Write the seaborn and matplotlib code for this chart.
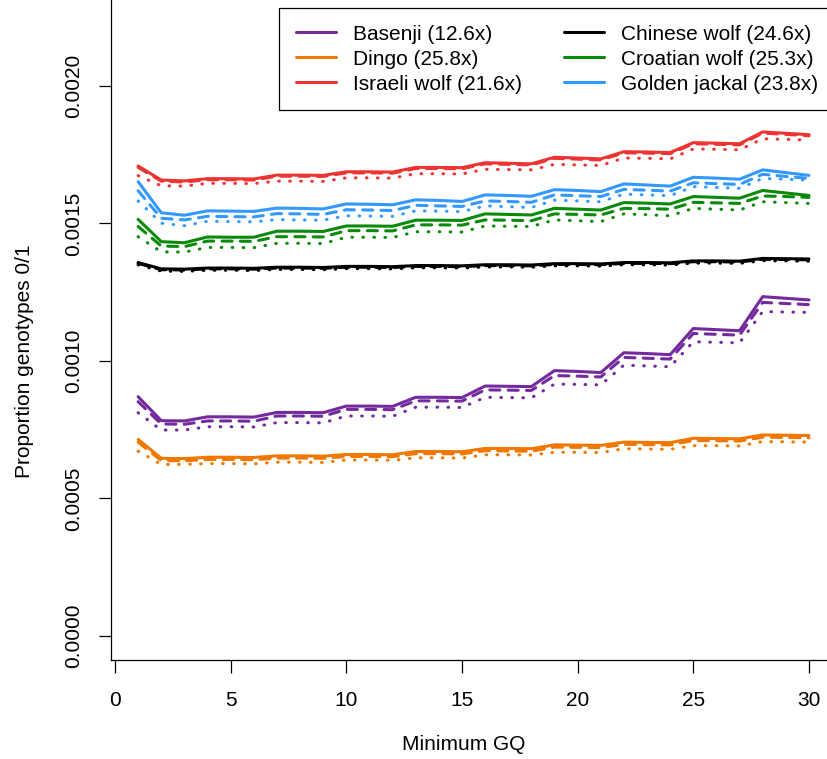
import pandas as pd
import matplotlib
matplotlib.use("Agg")
import matplotlib.pyplot as plt
from matplotlib.lines import Line2D
import seaborn as sns

# Minimum GQ threshold
gq = list(range(1, 31))

# Proportion of 0/1 genotypes, three filter variants per sample (solid / dashed / dotted)
basenji_solid = [0.000870, 0.000783, 0.000782, 0.000797, 0.000797, 0.000796, 0.000813, 0.000813, 0.000812, 0.000836,
                 0.000836, 0.000835, 0.000868, 0.000868, 0.000867, 0.000909, 0.000908, 0.000907, 0.000965, 0.000962,
                 0.000958, 0.001030, 0.001027, 0.001023, 0.001118, 0.001114, 0.001110, 0.001234, 0.001228, 0.001222]
basenji_dashed = [0.000852, 0.000771, 0.000770, 0.000782, 0.000782, 0.000781, 0.000800, 0.000800, 0.000799, 0.000824,
                  0.000824, 0.000823, 0.000855, 0.000855, 0.000854, 0.000895, 0.000894, 0.000893, 0.000947, 0.000945,
                  0.000942, 0.001013, 0.001010, 0.001007, 0.001100, 0.001097, 0.001094, 0.001213, 0.001209, 0.001205]
basenji_dotted = [0.000812, 0.000749, 0.000749, 0.000761, 0.000761, 0.000760, 0.000776, 0.000776, 0.000775, 0.000800,
                  0.000800, 0.000799, 0.000832, 0.000832, 0.000831, 0.000868, 0.000867, 0.000866, 0.000916, 0.000915,
                  0.000913, 0.000985, 0.000982, 0.000979, 0.001070, 0.001068, 0.001066, 0.001180, 0.001178, 0.001177]

dingo_solid = [0.000715, 0.000646, 0.000645, 0.000650, 0.000650, 0.000649, 0.000655, 0.000655, 0.000654, 0.000660,
               0.000660, 0.000659, 0.000671, 0.000671, 0.000670, 0.000682, 0.000682, 0.000681, 0.000695, 0.000694,
               0.000693, 0.000705, 0.000704, 0.000703, 0.000719, 0.000718, 0.000717, 0.000731, 0.000730, 0.000729]
dingo_dashed = [0.000705, 0.000638, 0.000637, 0.000642, 0.000642, 0.000641, 0.000647, 0.000647, 0.000646, 0.000653,
                0.000653, 0.000652, 0.000663, 0.000663, 0.000662, 0.000674, 0.000673, 0.000672, 0.000687, 0.000686,
                0.000685, 0.000697, 0.000696, 0.000695, 0.000711, 0.000710, 0.000709, 0.000723, 0.000722, 0.000721]
dingo_dotted = [0.000672, 0.000624, 0.000624, 0.000627, 0.000627, 0.000626, 0.000632, 0.000632, 0.000631, 0.000640,
                0.000640, 0.000639, 0.000648, 0.000648, 0.000647, 0.000659, 0.000659, 0.000658, 0.000668, 0.000668,
                0.000667, 0.000681, 0.000680, 0.000679, 0.000692, 0.000692, 0.000691, 0.000707, 0.000706, 0.000705]

israeli_solid = [0.001709, 0.001658, 0.001655, 0.001663, 0.001663, 0.001662, 0.001676, 0.001676, 0.001675, 0.001688,
                 0.001688, 0.001687, 0.001704, 0.001704, 0.001703, 0.001721, 0.001719, 0.001717, 0.001741, 0.001738,
                 0.001735, 0.001761, 0.001760, 0.001758, 0.001794, 0.001792, 0.001790, 0.001833, 0.001828, 0.001823]
israeli_dashed = [0.001704, 0.001654, 0.001651, 0.001659, 0.001659, 0.001658, 0.001672, 0.001672, 0.001671, 0.001684,
                  0.001684, 0.001683, 0.001700, 0.001700, 0.001699, 0.001717, 0.001715, 0.001713, 0.001737, 0.001734,
                  0.001731, 0.001757, 0.001756, 0.001754, 0.001790, 0.001788, 0.001786, 0.001829, 0.001824, 0.001819]
israeli_dotted = [0.001674, 0.001637, 0.001636, 0.001646, 0.001646, 0.001645, 0.001654, 0.001654, 0.001653, 0.001666,
                  0.001666, 0.001665, 0.001681, 0.001681, 0.001680, 0.001697, 0.001696, 0.001695, 0.001715, 0.001713,
                  0.001711, 0.001738, 0.001737, 0.001735, 0.001771, 0.001770, 0.001768, 0.001808, 0.001806, 0.001803]

chinese_solid = [0.001358, 0.001335, 0.001334, 0.001338, 0.001338, 0.001337, 0.001341, 0.001341, 0.001340, 0.001344,
                 0.001344, 0.001343, 0.001347, 0.001347, 0.001346, 0.001350, 0.001350, 0.001349, 0.001354, 0.001354,
                 0.001353, 0.001358, 0.001358, 0.001357, 0.001364, 0.001364, 0.001363, 0.001373, 0.001372, 0.001371]
chinese_dashed = [0.001355, 0.001332, 0.001331, 0.001335, 0.001335, 0.001334, 0.001338, 0.001338, 0.001337, 0.001341,
                  0.001341, 0.001340, 0.001344, 0.001344, 0.001343, 0.001347, 0.001347, 0.001346, 0.001351, 0.001351,
                  0.001350, 0.001355, 0.001355, 0.001354, 0.001361, 0.001361, 0.001360, 0.001370, 0.001369, 0.001368]
chinese_dotted = [0.001350, 0.001327, 0.001326, 0.001330, 0.001330, 0.001329, 0.001333, 0.001333, 0.001332, 0.001336,
                  0.001336, 0.001335, 0.001339, 0.001339, 0.001338, 0.001342, 0.001342, 0.001341, 0.001346, 0.001346,
                  0.001345, 0.001350, 0.001350, 0.001349, 0.001356, 0.001356, 0.001355, 0.001365, 0.001364, 0.001363]

croatian_solid = [0.001515, 0.001434, 0.001430, 0.001451, 0.001450, 0.001450, 0.001472, 0.001472, 0.001471, 0.001491,
                  0.001491, 0.001490, 0.001512, 0.001512, 0.001511, 0.001535, 0.001533, 0.001531, 0.001555, 0.001552,
                  0.001549, 0.001576, 0.001574, 0.001571, 0.001598, 0.001595, 0.001592, 0.001620, 0.001611, 0.001602]
croatian_dashed = [0.001489, 0.001418, 0.001416, 0.001436, 0.001436, 0.001435, 0.001452, 0.001452, 0.001451, 0.001474,
                   0.001474, 0.001473, 0.001495, 0.001495, 0.001494, 0.001513, 0.001512, 0.001510, 0.001535, 0.001533,
                   0.001531, 0.001555, 0.001554, 0.001552, 0.001577, 0.001575, 0.001573, 0.001600, 0.001598, 0.001595]
croatian_dotted = [0.001452, 0.001397, 0.001396, 0.001413, 0.001413, 0.001412, 0.001428, 0.001428, 0.001427, 0.001450,
                   0.001450, 0.001449, 0.001470, 0.001470, 0.001469, 0.001491, 0.001490, 0.001489, 0.001513, 0.001510,
                   0.001507, 0.001535, 0.001532, 0.001528, 0.001555, 0.001552, 0.001549, 0.001579, 0.001576, 0.001573]

jackal_solid = [0.001652, 0.001539, 0.001530, 0.001546, 0.001545, 0.001544, 0.001556, 0.001555, 0.001553, 0.001571,
                0.001570, 0.001568, 0.001586, 0.001584, 0.001580, 0.001604, 0.001602, 0.001599, 0.001623, 0.001620,
                0.001616, 0.001644, 0.001640, 0.001636, 0.001668, 0.001665, 0.001661, 0.001695, 0.001685, 0.001675]
jackal_dashed = [0.001619, 0.001519, 0.001513, 0.001526, 0.001525, 0.001524, 0.001536, 0.001535, 0.001533, 0.001550,
                 0.001549, 0.001547, 0.001566, 0.001564, 0.001562, 0.001582, 0.001580, 0.001577, 0.001604, 0.001601,
                 0.001598, 0.001624, 0.001621, 0.001618, 0.001648, 0.001645, 0.001642, 0.001679, 0.001671, 0.001664]
jackal_dotted = [0.001582, 0.001501, 0.001492, 0.001508, 0.001507, 0.001506, 0.001514, 0.001513, 0.001512, 0.001528,
                 0.001527, 0.001526, 0.001546, 0.001545, 0.001543, 0.001564, 0.001561, 0.001558, 0.001585, 0.001582,
                 0.001579, 0.001607, 0.001604, 0.001601, 0.001634, 0.001631, 0.001628, 0.001664, 0.001661, 0.001658]

samples = ["Basenji (12.6x)", "Dingo (25.8x)", "Israeli wolf (21.6x)",
           "Chinese wolf (24.6x)", "Croatian wolf (25.3x)", "Golden jackal (23.8x)"]
colors = ["#742A9C", "#F07800", "#EE3333", "#000000", "#0A8A0A", "#3399FF"]
series = [
    (basenji_solid, basenji_dashed, basenji_dotted),
    (dingo_solid, dingo_dashed, dingo_dotted),
    (israeli_solid, israeli_dashed, israeli_dotted),
    (chinese_solid, chinese_dashed, chinese_dotted),
    (croatian_solid, croatian_dashed, croatian_dotted),
    (jackal_solid, jackal_dashed, jackal_dotted),
]

# long-form table for seaborn
rows = []
for name, triple in zip(samples, series):
    for variant, vals in zip(["solid", "dashed", "dotted"], triple):
        for x, v in zip(gq, vals):
            rows.append({"gq": x, "prop": v, "sample": name, "variant": variant})
df = pd.DataFrame(rows)

sns.set_theme(style="ticks")
plt.rcParams["font.family"] = ["Liberation Sans", "DejaVu Sans"]
plt.rcParams["text.color"] = "black"
fs = 15

W, H = 827, 759
fig = plt.figure(figsize=(W / 100, H / 100), dpi=100)
ax = fig.add_axes([111 / W, 99 / H, 1 - 111 / W, 1 - 99 / H])

styles = {
    "solid": dict(linestyle="-"),
    "dashed": dict(linestyle=(0, (3.3, 2.7)), dash_capstyle="round"),
    "dotted": dict(linestyle=(0, (0.2, 3.4)), dash_capstyle="round"),
}
for name, col in zip(samples, colors):
    for variant in ["solid", "dashed", "dotted"]:
        sub = df[(df["sample"] == name) & (df["variant"] == variant)]
        sns.lineplot(data=sub, x="gq", y="prop", color=col, lw=2.2, ax=ax,
                     legend=False, **styles[variant])

ax.set_xlim(-0.173, 30.78)
ax.set_ylim(-0.0000873, 0.0023127)
ax.set_xticks([0, 5, 10, 15, 20, 25, 30])
ax.set_xticklabels(["0", "5", "10", "15", "20", "25", "30"], fontsize=fs)
yt = [0.0, 0.0005, 0.0010, 0.0015, 0.0020]
ax.set_yticks(yt)
ax.set_yticklabels([f"{v:.4f}" for v in yt], fontsize=fs, rotation=90, va="center")
ax.tick_params(axis="x", length=9, width=0.9, pad=13, colors="black")
ax.tick_params(axis="y", length=9, width=0.9, pad=11, colors="black")
ax.set_xlabel("")
ax.set_ylabel("")
for s in ["top", "right"]:
    ax.spines[s].set_visible(False)
for s in ["left", "bottom"]:
    ax.spines[s].set_color("black")
    ax.spines[s].set_linewidth(0.9)

fig.text(464 / W, 1 - 745 / H, "Minimum GQ", fontsize=fs, ha="center", va="center", color="black")
fig.text(25 / W, 1 - 361 / H, "Proportion genotypes 0/1", fontsize=fs,
         ha="center", va="center", rotation=90, color="black")

handles = [Line2D([0], [0], color=c, lw=2.2) for c in colors]
leg = fig.legend(handles, samples, ncol=2, loc="upper left",
                 bbox_to_anchor=(279 / W, 1 - 8 / H), bbox_transform=fig.transFigure,
                 fontsize=fs, frameon=True, fancybox=False, framealpha=1,
                 edgecolor="black", borderpad=0.8, borderaxespad=0,
                 handlelength=1.95, handletextpad=0.8, columnspacing=2.0,
                 labelspacing=0.29, labelcolor="black")
leg.get_frame().set_linewidth(0.9)

fig.savefig("out.png", dpi=100)
